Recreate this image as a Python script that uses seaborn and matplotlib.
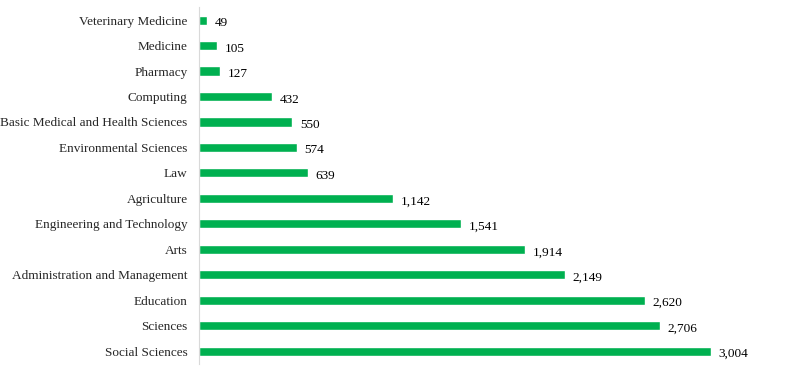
import pandas as pd
import numpy as np
import matplotlib.pyplot as plt
import seaborn as sns

fields = ['Veterinary Medicine', 'Medicine', 'Pharmacy', 'Computing',
          'Basic Medical and Health Sciences', 'Environmental Sciences', 'Law',
          'Agriculture', 'Engineering and Technology', 'Arts',
          'Administration and Management', 'Education', 'Sciences',
          'Social Sciences']
counts = [49, 105, 127, 432, 550, 574, 639, 1142, 1541, 1914, 2149, 2620, 2706, 3004]

df = pd.DataFrame({'field': fields, 'count': counts})

sns.set_style('white')
plt.rcParams['font.family'] = ['Liberation Serif', 'DejaVu Serif']

fig = plt.figure(figsize=(8.08, 3.72), dpi=100)
ax = fig.add_axes([0.246, 0.022, 0.738, 0.958])
g = sns.barplot(data=df, y='field', x='count', color='#00B050',
                saturation=1, width=0.36, ax=ax)

ax.set_xlim(0, 3500)
ax.set_xlabel('')
ax.set_ylabel('')
ax.set_xticks([])
for s in ['top', 'right', 'bottom']:
    ax.spines[s].set_visible(False)
ax.spines['left'].set_color('#d9d9d9')
ax.tick_params(axis='y', length=0, pad=8, labelsize=9.5)

for i, v in enumerate(df['count']):
    ax.text(v + 45, i + 0.12, f'{v:,}', va='center', ha='left', fontsize=9.5, color='black')

plt.savefig('out.png', dpi=100)
